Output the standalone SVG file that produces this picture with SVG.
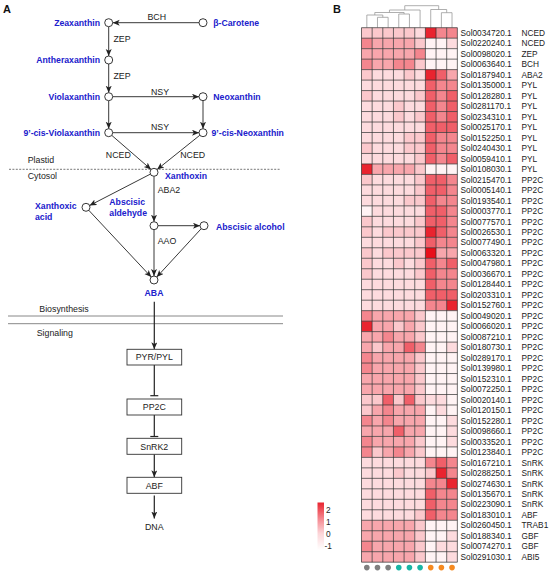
<svg xmlns="http://www.w3.org/2000/svg" xmlns:xlink="http://www.w3.org/1999/xlink" width="550" height="575" viewBox="0 0 550 575">
<style>
text{font-family:"Liberation Sans",Arial,sans-serif}
.m{font-size:8.7px;font-weight:bold;fill:#2020cc}
.l{font-size:8.8px;fill:#222}
.pl{font-size:11px;font-weight:bold;fill:#111}
.ln{stroke:#222;stroke-width:0.9;fill:none}
.sg{stroke:#222;stroke-width:1.2;fill:none}
.nd{fill:#fff;stroke:#222;stroke-width:0.9}
.bx{fill:#fff;stroke:#333;stroke-width:0.9}
.hl{font-size:8.3px;fill:#222}
</style>
<defs>
<marker id="ar" markerUnits="userSpaceOnUse" markerWidth="8" markerHeight="7" refX="7" refY="3" orient="auto"><path d="M0,0 L7,3 L0,6 L1.8,3 z" fill="#222"/></marker>
<rect id="k0" width="10.65" height="10.48" fill="#fff3f4"/>
<rect id="k1" width="10.65" height="10.48" fill="#fddbde"/>
<rect id="k2" width="10.65" height="10.48" fill="#fbc8cc"/>
<rect id="k3" width="10.65" height="10.48" fill="#f8a6ac"/>
<rect id="k4" width="10.65" height="10.48" fill="#f4868e"/>
<rect id="k5" width="10.65" height="10.48" fill="#f05f69"/>
<rect id="k6" width="10.65" height="10.48" fill="#e9242f"/>
<rect id="k7" width="10.65" height="10.48" fill="#e8101a"/>
<linearGradient id="lg" x1="0" y1="0" x2="0" y2="1"><stop offset="0" stop-color="#e9242f"/><stop offset="0.35" stop-color="#f58a92"/><stop offset="0.65" stop-color="#fcd5d8"/><stop offset="1" stop-color="#ffffff"/></linearGradient>
</defs>
<rect width="550" height="575" fill="#fff"/>
<text class="pl" x="3" y="13">A</text>
<text class="pl" x="333" y="13">B</text>

<g id="compartments">
<line x1="9" y1="169.3" x2="280" y2="169.3" stroke="#555" stroke-width="0.8" stroke-dasharray="2,1.4"/>
<line x1="8" y1="316" x2="283" y2="316" stroke="#888" stroke-width="1"/>
<line x1="8" y1="323.7" x2="283" y2="323.7" stroke="#888" stroke-width="1"/>
<text class="l" x="27.7" y="163">Plastid</text>
<text class="l" x="27.7" y="179">Cytosol</text>
<text class="l" x="39.3" y="312">Biosynthesis</text>
<text class="l" x="36.7" y="335.5">Signaling</text>
</g>

<g id="connectors">
<line class="ln" x1="199" y1="22.7" x2="112.7" y2="22.7" marker-end="url(#ar)"/>
<line class="ln" x1="108.7" y1="26.7" x2="108.7" y2="56" marker-end="url(#ar)"/>
<line class="ln" x1="108.7" y1="64" x2="108.7" y2="92.7" marker-end="url(#ar)"/>
<line class="ln" x1="112.7" y1="96.7" x2="199" y2="96.7" marker-end="url(#ar)"/>
<line class="ln" x1="108.7" y1="100.7" x2="108.7" y2="128.7" marker-end="url(#ar)"/>
<line class="ln" x1="203" y1="100.7" x2="203" y2="128.7" marker-end="url(#ar)"/>
<line class="ln" x1="112.7" y1="132.7" x2="199" y2="132.7" marker-end="url(#ar)"/>
<line class="ln" x1="111.7" y1="135.3" x2="151" y2="169.4" marker-end="url(#ar)"/>
<line class="ln" x1="199.9" y1="135.2" x2="157.1" y2="169.5" marker-end="url(#ar)"/>
<line class="ln" x1="150.4" y1="174.1" x2="89.6" y2="205.5" marker-end="url(#ar)"/>
<line class="ln" x1="154" y1="176.3" x2="154" y2="221.7" marker-end="url(#ar)"/>
<line class="ln" x1="158" y1="225.7" x2="200" y2="225.7" marker-end="url(#ar)"/>
<line class="ln" x1="88.7" y1="210.2" x2="151.3" y2="277.1" marker-end="url(#ar)"/>
<line class="ln" x1="154" y1="229.7" x2="154" y2="276" marker-end="url(#ar)"/>
<line class="ln" x1="201.3" y1="228.6" x2="156.7" y2="277.1" marker-end="url(#ar)"/>
<line class="sg" x1="154.3" y1="301.7" x2="154.3" y2="349.3" marker-end="url(#ar)"/>
<line class="sg" x1="154.3" y1="365" x2="154.3" y2="395.7"/>
<line class="sg" x1="150.3" y1="395.7" x2="158.3" y2="395.7"/>
<line class="sg" x1="154.3" y1="415" x2="154.3" y2="436.5"/>
<line class="sg" x1="150.3" y1="436.5" x2="158.3" y2="436.5"/>
<line class="sg" x1="154.3" y1="454.3" x2="154.3" y2="477.3" marker-end="url(#ar)"/>
<line class="sg" x1="154.3" y1="495.5" x2="154.3" y2="518.5" marker-end="url(#ar)"/>
</g>

<g id="edge-labels">
<text class="l" x="156.7" y="20.3" text-anchor="middle">BCH</text>
<text class="l" x="113.5" y="42">ZEP</text>
<text class="l" x="113.5" y="79">ZEP</text>
<text class="l" x="160" y="94.8" text-anchor="middle">NSY</text>
<text class="l" x="160" y="129.8" text-anchor="middle">NSY</text>
<text class="l" x="118.3" y="158" text-anchor="middle">NCED</text>
<text class="l" x="192.7" y="158" text-anchor="middle">NCED</text>
<text class="l" x="157.7" y="193">ABA2</text>
<text class="l" x="157.7" y="243.8">AAO</text>
</g>

<g id="n-zeaxanthin"><circle class="nd" cx="108.7" cy="22.7" r="4"/><text class="m" x="100" y="25.8" text-anchor="end">Zeaxanthin</text></g>
<g id="n-carotene"><circle class="nd" cx="203" cy="22.7" r="4"/><text class="m" x="213.3" y="25.8">β-Carotene</text></g>
<g id="n-antheraxanthin"><circle class="nd" cx="108.7" cy="60" r="4"/><text class="m" x="100" y="63" text-anchor="end">Antheraxanthin</text></g>
<g id="n-violaxanthin"><circle class="nd" cx="108.7" cy="96.7" r="4"/><text class="m" x="100" y="99.8" text-anchor="end">Violaxanthin</text></g>
<g id="n-neoxanthin"><circle class="nd" cx="203" cy="96.7" r="4"/><text class="m" x="213.3" y="99.8">Neoxanthin</text></g>
<g id="n-cisviolaxanthin"><circle class="nd" cx="108.7" cy="132.7" r="4"/><text class="m" x="100" y="135.8" text-anchor="end">9’-cis-Violaxanthin</text></g>
<g id="n-cisneoxanthin"><circle class="nd" cx="203" cy="132.7" r="4"/><text class="m" x="211.5" y="135.8">9’-cis-Neoxanthin</text></g>
<g id="n-xanthoxin"><circle class="nd" cx="154" cy="172.3" r="4"/><text class="m" x="165" y="179">Xanthoxin</text></g>
<g id="n-xanthoxicacid"><circle class="nd" cx="86" cy="207.3" r="4"/><text class="m" x="35" y="208.8">Xanthoxic</text><text class="m" x="35" y="219.8">acid</text></g>
<g id="n-aldehyde"><circle class="nd" cx="154" cy="225.7" r="4"/><text class="m" x="109.3" y="205.3">Abscisic</text><text class="m" x="109.3" y="215.8">aldehyde</text></g>
<g id="n-alcohol"><circle class="nd" cx="204" cy="225.7" r="4"/><text class="m" x="216" y="230">Abscisic alcohol</text></g>
<g id="n-aba"><circle class="nd" cx="154" cy="280" r="4"/><text class="m" x="154" y="295.8" text-anchor="middle">ABA</text></g>
<g id="n-pyr"><rect class="bx" x="127" y="349.3" width="54.7" height="15.7"/><text class="l" x="154.3" y="360.3" text-anchor="middle">PYR/PYL</text></g>
<g id="n-pp2c"><rect class="bx" x="127" y="399" width="54.7" height="16"/><text class="l" x="154.3" y="410.2" text-anchor="middle">PP2C</text></g>
<g id="n-snrk2"><rect class="bx" x="127" y="438.3" width="54.7" height="16"/><text class="l" x="154.3" y="449.5" text-anchor="middle">SnRK2</text></g>
<g id="n-abf"><rect class="bx" x="127" y="477.3" width="54.7" height="16"/><text class="l" x="154.3" y="488.5" text-anchor="middle">ABF</text></g>
<g id="n-dna"><text class="l" x="154.3" y="529.8" text-anchor="middle">DNA</text></g>

<g id="dendrogram" fill="none" stroke="#9a9a9a" stroke-width="0.8">
<path d="M377.48,27.7V17.3H388.13V27.7 M366.83,27.7V15H382.8V17.3 M398.78,27.7V14H409.43V27.7 M374.8,15V12.5H404.1V14 M389.45,12.5V10H420.08V27.7 M441.38,27.7V12.7H452.03V27.7 M430.73,27.7V9.5H446.7V12.7 M404.77,10V5.7H438.7V9.5"/>
</g>

<g id="heatmap">
<g id="r01" transform="translate(361.5,27.7)"><use href="#k2" x="0"/><use href="#k2" x="10.65"/><use href="#k2" x="21.3"/><use href="#k2" x="31.95"/><use href="#k2" x="42.6"/><use href="#k1" x="53.25"/><use href="#k6" x="63.9"/><use href="#k4" x="74.55"/><use href="#k4" x="85.2"/><text class="hl" x="99" y="8.2">Sol0034720.1</text><text class="hl" x="160" y="8.2">NCED</text></g>
<g id="r02" transform="translate(361.5,38.18)"><use href="#k4" x="0"/><use href="#k3" x="10.65"/><use href="#k3" x="21.3"/><use href="#k3" x="31.95"/><use href="#k3" x="42.6"/><use href="#k2" x="53.25"/><use href="#k0" x="63.9"/><use href="#k0" x="74.55"/><use href="#k1" x="85.2"/><text class="hl" x="99" y="8.2">Sol0220240.1</text><text class="hl" x="160" y="8.2">NCED</text></g>
<g id="r03" transform="translate(361.5,48.66)"><use href="#k3" x="0"/><use href="#k3" x="10.65"/><use href="#k3" x="21.3"/><use href="#k3" x="31.95"/><use href="#k3" x="42.6"/><use href="#k4" x="53.25"/><use href="#k0" x="63.9"/><use href="#k0" x="74.55"/><use href="#k0" x="85.2"/><text class="hl" x="99" y="8.2">Sol0098020.1</text><text class="hl" x="160" y="8.2">ZEP</text></g>
<g id="r04" transform="translate(361.5,59.14)"><use href="#k4" x="0"/><use href="#k3" x="10.65"/><use href="#k3" x="21.3"/><use href="#k4" x="31.95"/><use href="#k4" x="42.6"/><use href="#k2" x="53.25"/><use href="#k0" x="63.9"/><use href="#k0" x="74.55"/><use href="#k0" x="85.2"/><text class="hl" x="99" y="8.2">Sol0063640.1</text><text class="hl" x="160" y="8.2">BCH</text></g>
<g id="r05" transform="translate(361.5,69.62)"><use href="#k2" x="0"/><use href="#k1" x="10.65"/><use href="#k1" x="21.3"/><use href="#k1" x="31.95"/><use href="#k2" x="42.6"/><use href="#k1" x="53.25"/><use href="#k6" x="63.9"/><use href="#k5" x="74.55"/><use href="#k3" x="85.2"/><text class="hl" x="99" y="8.2">Sol0187940.1</text><text class="hl" x="160" y="8.2">ABA2</text></g>
<g id="r06" transform="translate(361.5,80.1)"><use href="#k1" x="0"/><use href="#k1" x="10.65"/><use href="#k1" x="21.3"/><use href="#k1" x="31.95"/><use href="#k1" x="42.6"/><use href="#k1" x="53.25"/><use href="#k5" x="63.9"/><use href="#k4" x="74.55"/><use href="#k4" x="85.2"/><text class="hl" x="99" y="8.2">Sol0135000.1</text><text class="hl" x="160" y="8.2">PYL</text></g>
<g id="r07" transform="translate(361.5,90.58)"><use href="#k2" x="0"/><use href="#k1" x="10.65"/><use href="#k1" x="21.3"/><use href="#k1" x="31.95"/><use href="#k1" x="42.6"/><use href="#k2" x="53.25"/><use href="#k5" x="63.9"/><use href="#k4" x="74.55"/><use href="#k5" x="85.2"/><text class="hl" x="99" y="8.2">Sol0128280.1</text><text class="hl" x="160" y="8.2">PYL</text></g>
<g id="r08" transform="translate(361.5,101.06)"><use href="#k1" x="0"/><use href="#k1" x="10.65"/><use href="#k1" x="21.3"/><use href="#k2" x="31.95"/><use href="#k1" x="42.6"/><use href="#k1" x="53.25"/><use href="#k5" x="63.9"/><use href="#k4" x="74.55"/><use href="#k5" x="85.2"/><text class="hl" x="99" y="8.2">Sol0281170.1</text><text class="hl" x="160" y="8.2">PYL</text></g>
<g id="r09" transform="translate(361.5,111.54)"><use href="#k1" x="0"/><use href="#k1" x="10.65"/><use href="#k1" x="21.3"/><use href="#k2" x="31.95"/><use href="#k1" x="42.6"/><use href="#k2" x="53.25"/><use href="#k5" x="63.9"/><use href="#k4" x="74.55"/><use href="#k5" x="85.2"/><text class="hl" x="99" y="8.2">Sol0234310.1</text><text class="hl" x="160" y="8.2">PYL</text></g>
<g id="r10" transform="translate(361.5,122.02)"><use href="#k1" x="0"/><use href="#k1" x="10.65"/><use href="#k1" x="21.3"/><use href="#k1" x="31.95"/><use href="#k1" x="42.6"/><use href="#k1" x="53.25"/><use href="#k5" x="63.9"/><use href="#k5" x="74.55"/><use href="#k5" x="85.2"/><text class="hl" x="99" y="8.2">Sol0025170.1</text><text class="hl" x="160" y="8.2">PYL</text></g>
<g id="r11" transform="translate(361.5,132.5)"><use href="#k1" x="0"/><use href="#k1" x="10.65"/><use href="#k1" x="21.3"/><use href="#k1" x="31.95"/><use href="#k2" x="42.6"/><use href="#k2" x="53.25"/><use href="#k5" x="63.9"/><use href="#k4" x="74.55"/><use href="#k4" x="85.2"/><text class="hl" x="99" y="8.2">Sol0152250.1</text><text class="hl" x="160" y="8.2">PYL</text></g>
<g id="r12" transform="translate(361.5,142.98)"><use href="#k2" x="0"/><use href="#k1" x="10.65"/><use href="#k1" x="21.3"/><use href="#k1" x="31.95"/><use href="#k2" x="42.6"/><use href="#k2" x="53.25"/><use href="#k5" x="63.9"/><use href="#k4" x="74.55"/><use href="#k4" x="85.2"/><text class="hl" x="99" y="8.2">Sol0240430.1</text><text class="hl" x="160" y="8.2">PYL</text></g>
<g id="r13" transform="translate(361.5,153.46)"><use href="#k1" x="0"/><use href="#k1" x="10.65"/><use href="#k1" x="21.3"/><use href="#k1" x="31.95"/><use href="#k1" x="42.6"/><use href="#k2" x="53.25"/><use href="#k5" x="63.9"/><use href="#k4" x="74.55"/><use href="#k5" x="85.2"/><text class="hl" x="99" y="8.2">Sol0059410.1</text><text class="hl" x="160" y="8.2">PYL</text></g>
<g id="r14" transform="translate(361.5,163.94)"><use href="#k6" x="0"/><use href="#k3" x="10.65"/><use href="#k3" x="21.3"/><use href="#k3" x="31.95"/><use href="#k3" x="42.6"/><use href="#k2" x="53.25"/><use href="#k0" x="63.9"/><use href="#k0" x="74.55"/><use href="#k0" x="85.2"/><text class="hl" x="99" y="8.2">Sol0108030.1</text><text class="hl" x="160" y="8.2">PYL</text></g>
<g id="r15" transform="translate(361.5,174.42)"><use href="#k2" x="0"/><use href="#k1" x="10.65"/><use href="#k1" x="21.3"/><use href="#k1" x="31.95"/><use href="#k1" x="42.6"/><use href="#k2" x="53.25"/><use href="#k5" x="63.9"/><use href="#k5" x="74.55"/><use href="#k4" x="85.2"/><text class="hl" x="99" y="8.2">Sol0215470.1</text><text class="hl" x="160" y="8.2">PP2C</text></g>
<g id="r16" transform="translate(361.5,184.9)"><use href="#k1" x="0"/><use href="#k1" x="10.65"/><use href="#k1" x="21.3"/><use href="#k1" x="31.95"/><use href="#k1" x="42.6"/><use href="#k2" x="53.25"/><use href="#k5" x="63.9"/><use href="#k5" x="74.55"/><use href="#k4" x="85.2"/><text class="hl" x="99" y="8.2">Sol0005140.1</text><text class="hl" x="160" y="8.2">PP2C</text></g>
<g id="r17" transform="translate(361.5,195.38)"><use href="#k1" x="0"/><use href="#k1" x="10.65"/><use href="#k1" x="21.3"/><use href="#k1" x="31.95"/><use href="#k2" x="42.6"/><use href="#k2" x="53.25"/><use href="#k5" x="63.9"/><use href="#k4" x="74.55"/><use href="#k4" x="85.2"/><text class="hl" x="99" y="8.2">Sol0193540.1</text><text class="hl" x="160" y="8.2">PP2C</text></g>
<g id="r18" transform="translate(361.5,205.86)"><use href="#k0" x="0"/><use href="#k1" x="10.65"/><use href="#k1" x="21.3"/><use href="#k1" x="31.95"/><use href="#k1" x="42.6"/><use href="#k1" x="53.25"/><use href="#k5" x="63.9"/><use href="#k5" x="74.55"/><use href="#k4" x="85.2"/><text class="hl" x="99" y="8.2">Sol0003770.1</text><text class="hl" x="160" y="8.2">PP2C</text></g>
<g id="r19" transform="translate(361.5,216.34)"><use href="#k2" x="0"/><use href="#k1" x="10.65"/><use href="#k1" x="21.3"/><use href="#k1" x="31.95"/><use href="#k1" x="42.6"/><use href="#k2" x="53.25"/><use href="#k5" x="63.9"/><use href="#k5" x="74.55"/><use href="#k4" x="85.2"/><text class="hl" x="99" y="8.2">Sol0077570.1</text><text class="hl" x="160" y="8.2">PP2C</text></g>
<g id="r20" transform="translate(361.5,226.82)"><use href="#k2" x="0"/><use href="#k1" x="10.65"/><use href="#k2" x="21.3"/><use href="#k2" x="31.95"/><use href="#k2" x="42.6"/><use href="#k2" x="53.25"/><use href="#k6" x="63.9"/><use href="#k5" x="74.55"/><use href="#k4" x="85.2"/><text class="hl" x="99" y="8.2">Sol0026530.1</text><text class="hl" x="160" y="8.2">PP2C</text></g>
<g id="r21" transform="translate(361.5,237.3)"><use href="#k1" x="0"/><use href="#k1" x="10.65"/><use href="#k1" x="21.3"/><use href="#k1" x="31.95"/><use href="#k1" x="42.6"/><use href="#k2" x="53.25"/><use href="#k5" x="63.9"/><use href="#k4" x="74.55"/><use href="#k4" x="85.2"/><text class="hl" x="99" y="8.2">Sol0077490.1</text><text class="hl" x="160" y="8.2">PP2C</text></g>
<g id="r22" transform="translate(361.5,247.78)"><use href="#k2" x="0"/><use href="#k1" x="10.65"/><use href="#k2" x="21.3"/><use href="#k2" x="31.95"/><use href="#k2" x="42.6"/><use href="#k2" x="53.25"/><use href="#k7" x="63.9"/><use href="#k3" x="74.55"/><use href="#k3" x="85.2"/><text class="hl" x="99" y="8.2">Sol0063320.1</text><text class="hl" x="160" y="8.2">PP2C</text></g>
<g id="r23" transform="translate(361.5,258.26)"><use href="#k2" x="0"/><use href="#k1" x="10.65"/><use href="#k1" x="21.3"/><use href="#k2" x="31.95"/><use href="#k1" x="42.6"/><use href="#k2" x="53.25"/><use href="#k5" x="63.9"/><use href="#k4" x="74.55"/><use href="#k5" x="85.2"/><text class="hl" x="99" y="8.2">Sol0047980.1</text><text class="hl" x="160" y="8.2">PP2C</text></g>
<g id="r24" transform="translate(361.5,268.74)"><use href="#k2" x="0"/><use href="#k1" x="10.65"/><use href="#k1" x="21.3"/><use href="#k1" x="31.95"/><use href="#k1" x="42.6"/><use href="#k2" x="53.25"/><use href="#k5" x="63.9"/><use href="#k4" x="74.55"/><use href="#k4" x="85.2"/><text class="hl" x="99" y="8.2">Sol0036670.1</text><text class="hl" x="160" y="8.2">PP2C</text></g>
<g id="r25" transform="translate(361.5,279.22)"><use href="#k1" x="0"/><use href="#k1" x="10.65"/><use href="#k1" x="21.3"/><use href="#k1" x="31.95"/><use href="#k1" x="42.6"/><use href="#k1" x="53.25"/><use href="#k5" x="63.9"/><use href="#k4" x="74.55"/><use href="#k4" x="85.2"/><text class="hl" x="99" y="8.2">Sol0128440.1</text><text class="hl" x="160" y="8.2">PP2C</text></g>
<g id="r26" transform="translate(361.5,289.7)"><use href="#k1" x="0"/><use href="#k1" x="10.65"/><use href="#k1" x="21.3"/><use href="#k1" x="31.95"/><use href="#k1" x="42.6"/><use href="#k1" x="53.25"/><use href="#k5" x="63.9"/><use href="#k5" x="74.55"/><use href="#k5" x="85.2"/><text class="hl" x="99" y="8.2">Sol0203310.1</text><text class="hl" x="160" y="8.2">PP2C</text></g>
<g id="r27" transform="translate(361.5,300.18)"><use href="#k1" x="0"/><use href="#k1" x="10.65"/><use href="#k1" x="21.3"/><use href="#k1" x="31.95"/><use href="#k1" x="42.6"/><use href="#k1" x="53.25"/><use href="#k4" x="63.9"/><use href="#k4" x="74.55"/><use href="#k6" x="85.2"/><text class="hl" x="99" y="8.2">Sol0152760.1</text><text class="hl" x="160" y="8.2">PP2C</text></g>
<g id="r28" transform="translate(361.5,310.66)"><use href="#k4" x="0"/><use href="#k3" x="10.65"/><use href="#k3" x="21.3"/><use href="#k3" x="31.95"/><use href="#k3" x="42.6"/><use href="#k2" x="53.25"/><use href="#k0" x="63.9"/><use href="#k0" x="74.55"/><use href="#k0" x="85.2"/><text class="hl" x="99" y="8.2">Sol0049020.1</text><text class="hl" x="160" y="8.2">PP2C</text></g>
<g id="r29" transform="translate(361.5,321.14)"><use href="#k6" x="0"/><use href="#k3" x="10.65"/><use href="#k3" x="21.3"/><use href="#k2" x="31.95"/><use href="#k3" x="42.6"/><use href="#k2" x="53.25"/><use href="#k0" x="63.9"/><use href="#k0" x="74.55"/><use href="#k0" x="85.2"/><text class="hl" x="99" y="8.2">Sol0066020.1</text><text class="hl" x="160" y="8.2">PP2C</text></g>
<g id="r30" transform="translate(361.5,331.62)"><use href="#k3" x="0"/><use href="#k3" x="10.65"/><use href="#k4" x="21.3"/><use href="#k3" x="31.95"/><use href="#k3" x="42.6"/><use href="#k2" x="53.25"/><use href="#k0" x="63.9"/><use href="#k0" x="74.55"/><use href="#k0" x="85.2"/><text class="hl" x="99" y="8.2">Sol0087210.1</text><text class="hl" x="160" y="8.2">PP2C</text></g>
<g id="r31" transform="translate(361.5,342.1)"><use href="#k3" x="0"/><use href="#k2" x="10.65"/><use href="#k3" x="21.3"/><use href="#k3" x="31.95"/><use href="#k5" x="42.6"/><use href="#k4" x="53.25"/><use href="#k0" x="63.9"/><use href="#k0" x="74.55"/><use href="#k1" x="85.2"/><text class="hl" x="99" y="8.2">Sol0180730.1</text><text class="hl" x="160" y="8.2">PP2C</text></g>
<g id="r32" transform="translate(361.5,352.58)"><use href="#k4" x="0"/><use href="#k3" x="10.65"/><use href="#k3" x="21.3"/><use href="#k3" x="31.95"/><use href="#k3" x="42.6"/><use href="#k2" x="53.25"/><use href="#k0" x="63.9"/><use href="#k0" x="74.55"/><use href="#k0" x="85.2"/><text class="hl" x="99" y="8.2">Sol0289170.1</text><text class="hl" x="160" y="8.2">PP2C</text></g>
<g id="r33" transform="translate(361.5,363.06)"><use href="#k4" x="0"/><use href="#k3" x="10.65"/><use href="#k3" x="21.3"/><use href="#k3" x="31.95"/><use href="#k3" x="42.6"/><use href="#k2" x="53.25"/><use href="#k0" x="63.9"/><use href="#k0" x="74.55"/><use href="#k0" x="85.2"/><text class="hl" x="99" y="8.2">Sol0139980.1</text><text class="hl" x="160" y="8.2">PP2C</text></g>
<g id="r34" transform="translate(361.5,373.54)"><use href="#k3" x="0"/><use href="#k3" x="10.65"/><use href="#k3" x="21.3"/><use href="#k3" x="31.95"/><use href="#k3" x="42.6"/><use href="#k2" x="53.25"/><use href="#k0" x="63.9"/><use href="#k0" x="74.55"/><use href="#k0" x="85.2"/><text class="hl" x="99" y="8.2">Sol0152310.1</text><text class="hl" x="160" y="8.2">PP2C</text></g>
<g id="r35" transform="translate(361.5,384.02)"><use href="#k3" x="0"/><use href="#k3" x="10.65"/><use href="#k3" x="21.3"/><use href="#k3" x="31.95"/><use href="#k3" x="42.6"/><use href="#k2" x="53.25"/><use href="#k0" x="63.9"/><use href="#k0" x="74.55"/><use href="#k0" x="85.2"/><text class="hl" x="99" y="8.2">Sol0072250.1</text><text class="hl" x="160" y="8.2">PP2C</text></g>
<g id="r36" transform="translate(361.5,394.5)"><use href="#k2" x="0"/><use href="#k2" x="10.65"/><use href="#k5" x="21.3"/><use href="#k2" x="31.95"/><use href="#k5" x="42.6"/><use href="#k2" x="53.25"/><use href="#k1" x="63.9"/><use href="#k1" x="74.55"/><use href="#k0" x="85.2"/><text class="hl" x="99" y="8.2">Sol0020140.1</text><text class="hl" x="160" y="8.2">PP2C</text></g>
<g id="r37" transform="translate(361.5,404.98)"><use href="#k2" x="0"/><use href="#k3" x="10.65"/><use href="#k4" x="21.3"/><use href="#k3" x="31.95"/><use href="#k3" x="42.6"/><use href="#k3" x="53.25"/><use href="#k0" x="63.9"/><use href="#k1" x="74.55"/><use href="#k0" x="85.2"/><text class="hl" x="99" y="8.2">Sol0120150.1</text><text class="hl" x="160" y="8.2">PP2C</text></g>
<g id="r38" transform="translate(361.5,415.46)"><use href="#k4" x="0"/><use href="#k3" x="10.65"/><use href="#k4" x="21.3"/><use href="#k3" x="31.95"/><use href="#k3" x="42.6"/><use href="#k3" x="53.25"/><use href="#k0" x="63.9"/><use href="#k0" x="74.55"/><use href="#k1" x="85.2"/><text class="hl" x="99" y="8.2">Sol0152280.1</text><text class="hl" x="160" y="8.2">PP2C</text></g>
<g id="r39" transform="translate(361.5,425.94)"><use href="#k3" x="0"/><use href="#k3" x="10.65"/><use href="#k3" x="21.3"/><use href="#k5" x="31.95"/><use href="#k3" x="42.6"/><use href="#k3" x="53.25"/><use href="#k0" x="63.9"/><use href="#k0" x="74.55"/><use href="#k1" x="85.2"/><text class="hl" x="99" y="8.2">Sol0098660.1</text><text class="hl" x="160" y="8.2">PP2C</text></g>
<g id="r40" transform="translate(361.5,436.42)"><use href="#k4" x="0"/><use href="#k3" x="10.65"/><use href="#k3" x="21.3"/><use href="#k3" x="31.95"/><use href="#k3" x="42.6"/><use href="#k2" x="53.25"/><use href="#k0" x="63.9"/><use href="#k0" x="74.55"/><use href="#k1" x="85.2"/><text class="hl" x="99" y="8.2">Sol0033520.1</text><text class="hl" x="160" y="8.2">PP2C</text></g>
<g id="r41" transform="translate(361.5,446.9)"><use href="#k4" x="0"/><use href="#k2" x="10.65"/><use href="#k3" x="21.3"/><use href="#k4" x="31.95"/><use href="#k3" x="42.6"/><use href="#k2" x="53.25"/><use href="#k0" x="63.9"/><use href="#k0" x="74.55"/><use href="#k0" x="85.2"/><text class="hl" x="99" y="8.2">Sol0123840.1</text><text class="hl" x="160" y="8.2">PP2C</text></g>
<g id="r42" transform="translate(361.5,457.38)"><use href="#k1" x="0"/><use href="#k1" x="10.65"/><use href="#k1" x="21.3"/><use href="#k1" x="31.95"/><use href="#k1" x="42.6"/><use href="#k1" x="53.25"/><use href="#k4" x="63.9"/><use href="#k5" x="74.55"/><use href="#k4" x="85.2"/><text class="hl" x="99" y="8.2">Sol0167210.1</text><text class="hl" x="160" y="8.2">SnRK</text></g>
<g id="r43" transform="translate(361.5,467.86)"><use href="#k1" x="0"/><use href="#k1" x="10.65"/><use href="#k1" x="21.3"/><use href="#k2" x="31.95"/><use href="#k1" x="42.6"/><use href="#k1" x="53.25"/><use href="#k2" x="63.9"/><use href="#k6" x="74.55"/><use href="#k4" x="85.2"/><text class="hl" x="99" y="8.2">Sol0288250.1</text><text class="hl" x="160" y="8.2">SnRK</text></g>
<g id="r44" transform="translate(361.5,478.34)"><use href="#k1" x="0"/><use href="#k1" x="10.65"/><use href="#k1" x="21.3"/><use href="#k1" x="31.95"/><use href="#k1" x="42.6"/><use href="#k1" x="53.25"/><use href="#k4" x="63.9"/><use href="#k4" x="74.55"/><use href="#k6" x="85.2"/><text class="hl" x="99" y="8.2">Sol0274630.1</text><text class="hl" x="160" y="8.2">SnRK</text></g>
<g id="r45" transform="translate(361.5,488.82)"><use href="#k1" x="0"/><use href="#k1" x="10.65"/><use href="#k1" x="21.3"/><use href="#k1" x="31.95"/><use href="#k1" x="42.6"/><use href="#k1" x="53.25"/><use href="#k5" x="63.9"/><use href="#k4" x="74.55"/><use href="#k4" x="85.2"/><text class="hl" x="99" y="8.2">Sol0135670.1</text><text class="hl" x="160" y="8.2">SnRK</text></g>
<g id="r46" transform="translate(361.5,499.3)"><use href="#k1" x="0"/><use href="#k1" x="10.65"/><use href="#k1" x="21.3"/><use href="#k1" x="31.95"/><use href="#k1" x="42.6"/><use href="#k1" x="53.25"/><use href="#k5" x="63.9"/><use href="#k4" x="74.55"/><use href="#k4" x="85.2"/><text class="hl" x="99" y="8.2">Sol0223090.1</text><text class="hl" x="160" y="8.2">SnRK</text></g>
<g id="r47" transform="translate(361.5,509.78)"><use href="#k1" x="0"/><use href="#k1" x="10.65"/><use href="#k1" x="21.3"/><use href="#k1" x="31.95"/><use href="#k1" x="42.6"/><use href="#k2" x="53.25"/><use href="#k5" x="63.9"/><use href="#k4" x="74.55"/><use href="#k4" x="85.2"/><text class="hl" x="99" y="8.2">Sol0183010.1</text><text class="hl" x="160" y="8.2">ABF</text></g>
<g id="r48" transform="translate(361.5,520.26)"><use href="#k3" x="0"/><use href="#k3" x="10.65"/><use href="#k3" x="21.3"/><use href="#k3" x="31.95"/><use href="#k3" x="42.6"/><use href="#k2" x="53.25"/><use href="#k0" x="63.9"/><use href="#k0" x="74.55"/><use href="#k0" x="85.2"/><text class="hl" x="99" y="8.2">Sol0260450.1</text><text class="hl" x="160" y="8.2">TRAB1</text></g>
<g id="r49" transform="translate(361.5,530.74)"><use href="#k3" x="0"/><use href="#k3" x="10.65"/><use href="#k3" x="21.3"/><use href="#k3" x="31.95"/><use href="#k3" x="42.6"/><use href="#k2" x="53.25"/><use href="#k0" x="63.9"/><use href="#k0" x="74.55"/><use href="#k1" x="85.2"/><text class="hl" x="99" y="8.2">Sol0188340.1</text><text class="hl" x="160" y="8.2">GBF</text></g>
<g id="r50" transform="translate(361.5,541.22)"><use href="#k4" x="0"/><use href="#k3" x="10.65"/><use href="#k3" x="21.3"/><use href="#k3" x="31.95"/><use href="#k3" x="42.6"/><use href="#k2" x="53.25"/><use href="#k0" x="63.9"/><use href="#k1" x="74.55"/><use href="#k1" x="85.2"/><text class="hl" x="99" y="8.2">Sol0074270.1</text><text class="hl" x="160" y="8.2">GBF</text></g>
<g id="r51" transform="translate(361.5,551.7)"><use href="#k3" x="0"/><use href="#k3" x="10.65"/><use href="#k3" x="21.3"/><use href="#k3" x="31.95"/><use href="#k3" x="42.6"/><use href="#k2" x="53.25"/><use href="#k0" x="63.9"/><use href="#k0" x="74.55"/><use href="#k1" x="85.2"/><text class="hl" x="99" y="8.2">Sol0291030.1</text><text class="hl" x="160" y="8.2">ABI5</text></g>
<path id="grid" fill="none" stroke="#2e2e2e" stroke-width="0.7" d="M361.5,27.7V562.18M372.15,27.7V562.18M382.8,27.7V562.18M393.45,27.7V562.18M404.1,27.7V562.18M414.75,27.7V562.18M425.4,27.7V562.18M436.05,27.7V562.18M446.7,27.7V562.18M457.35,27.7V562.18M361.5,27.7H457.35M361.5,38.18H457.35M361.5,48.66H457.35M361.5,59.14H457.35M361.5,69.62H457.35M361.5,80.1H457.35M361.5,90.58H457.35M361.5,101.06H457.35M361.5,111.54H457.35M361.5,122.02H457.35M361.5,132.5H457.35M361.5,142.98H457.35M361.5,153.46H457.35M361.5,163.94H457.35M361.5,174.42H457.35M361.5,184.9H457.35M361.5,195.38H457.35M361.5,205.86H457.35M361.5,216.34H457.35M361.5,226.82H457.35M361.5,237.3H457.35M361.5,247.78H457.35M361.5,258.26H457.35M361.5,268.74H457.35M361.5,279.22H457.35M361.5,289.7H457.35M361.5,300.18H457.35M361.5,310.66H457.35M361.5,321.14H457.35M361.5,331.62H457.35M361.5,342.1H457.35M361.5,352.58H457.35M361.5,363.06H457.35M361.5,373.54H457.35M361.5,384.02H457.35M361.5,394.5H457.35M361.5,404.98H457.35M361.5,415.46H457.35M361.5,425.94H457.35M361.5,436.42H457.35M361.5,446.9H457.35M361.5,457.38H457.35M361.5,467.86H457.35M361.5,478.34H457.35M361.5,488.82H457.35M361.5,499.3H457.35M361.5,509.78H457.35M361.5,520.26H457.35M361.5,530.74H457.35M361.5,541.22H457.35M361.5,551.7H457.35M361.5,562.18H457.35"/>
</g>

<g id="groups">
<circle cx="366.83" cy="567.6" r="2.8" fill="#7f7f7f"/>
<circle cx="377.48" cy="567.6" r="2.8" fill="#7f7f7f"/>
<circle cx="388.13" cy="567.6" r="2.8" fill="#7f7f7f"/>
<circle cx="398.78" cy="567.6" r="2.8" fill="#19b5a5"/>
<circle cx="409.43" cy="567.6" r="2.8" fill="#19b5a5"/>
<circle cx="420.08" cy="567.6" r="2.8" fill="#19b5a5"/>
<circle cx="430.73" cy="567.6" r="2.8" fill="#f5891f"/>
<circle cx="441.38" cy="567.6" r="2.8" fill="#f5891f"/>
<circle cx="452.03" cy="567.6" r="2.8" fill="#f5891f"/>
</g>

<g id="legend">
<rect x="317.5" y="502.5" width="6.5" height="47.5" fill="url(#lg)"/>
<text class="hl" x="326" y="513">2</text>
<text class="hl" x="326" y="524.7">1</text>
<text class="hl" x="326" y="537">0</text>
<text class="hl" x="324.5" y="549">-1</text>
</g>
</svg>
